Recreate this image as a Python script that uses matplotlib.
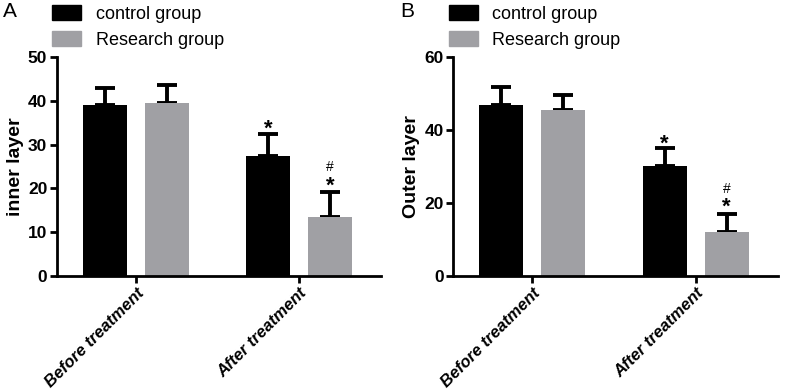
import numpy as np
import matplotlib
matplotlib.use("Agg")
import matplotlib.pyplot as plt
import matplotlib.patches as mpatches

plt.rcParams['font.family'] = ['Liberation Sans', 'DejaVu Sans']

groups = ['Before treatment', 'After treatment']
series = ['control group', 'Research group']
colors = ['#000000', '#A0A0A4']

inner_mean = [[39.0, 27.5], [39.5, 13.5]]
inner_err = [[4.0, 5.0], [4.2, 5.6]]
outer_mean = [[46.8, 30.0], [45.6, 12.0]]
outer_err = [[5.0, 5.0], [4.0, 5.0]]

panels = [
    ('A', 'inner layer', inner_mean, inner_err, 50, [0, 10, 20, 30, 40, 50], 0.0723),
    ('B', 'Outer layer', outer_mean, outer_err, 60, [0, 20, 40, 60], 0.5753),
]

fig = plt.figure(figsize=(7.88, 3.89), dpi=100)
bar_w = 0.27
offsets = [-0.19, 0.19]
ax_h_px = 219.0

for letter, ylabel, means, errs, ymax, yticks, left in panels:
    ax = fig.add_axes([left, 0.2905, 0.4115, 0.563])
    px = ymax / ax_h_px  # data units per pixel
    x = np.arange(len(groups))
    for i in range(len(series)):
        ax.bar(x + offsets[i], means[i], bar_w, color=colors[i], zorder=2)
        ax.errorbar(x + offsets[i], means[i], yerr=[np.zeros(len(groups)), errs[i]],
                    fmt='none', ecolor='black', elinewidth=2.8, capsize=7,
                    capthick=2.8, zorder=1)
    # significance marks on the after-treatment bars
    top_c = means[0][1] + errs[0][1]
    top_r = means[1][1] + errs[1][1]
    ax.text(1 + offsets[0], top_c - 1 * px, '*', ha='center', va='baseline',
            fontsize=16, fontweight='bold')
    ax.text(1 + offsets[1], top_r + 1 * px, '*', ha='center', va='baseline',
            fontsize=16, fontweight='bold')
    ax.text(1 + offsets[1], top_r + 21 * px, '#', ha='center', va='baseline',
            fontsize=10)

    ax.set_xlim(-0.485, 1.503)
    ax.set_ylim(0, ymax)
    ax.set_yticks(yticks)
    ax.set_xticks(x)
    ax.set_xticklabels(groups, rotation=45, ha='right', rotation_mode='anchor',
                       fontsize=12, fontweight='bold', style='italic')
    for lab in ax.get_yticklabels():
        lab.set_fontweight('bold')
        lab.set_fontsize(12.5)
    ax.set_ylabel(ylabel, fontsize=14, fontweight='bold', labelpad=3)
    ax.spines['top'].set_visible(False)
    ax.spines['right'].set_visible(False)
    ax.spines['left'].set_linewidth(2)
    ax.spines['bottom'].set_linewidth(2)
    ax.tick_params(axis='both', width=2, length=5, direction='out', pad=2)

    handles = [mpatches.Patch(color=colors[i], label=series[i]) for i in range(2)]
    ax.legend(handles=handles, loc='lower left', bbox_to_anchor=(-0.02, 1.03),
              frameon=False, fontsize=13, handlelength=1.6, handleheight=0.9,
              labelspacing=0.45, handletextpad=0.8, borderaxespad=0.0,
              borderpad=0.1)
    fig.text(left - 0.068, 0.995, letter, fontsize=15, va='top', ha='left')

fig.savefig('out.png', dpi=100, facecolor='white')
